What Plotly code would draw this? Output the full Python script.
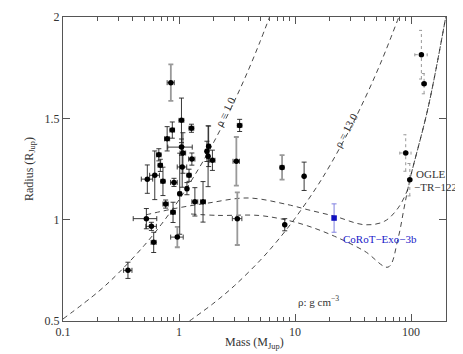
import plotly.graph_objects as go
import numpy as np

# transiting planets (black symbols)
mass = [1.05, 1.28, 0.875, 0.79, 1.05, 1.08, 0.67, 0.69, 1.29, 1.065, 0.533, 0.618,
        0.727, 0.905, 1.22, 1.17, 1.014, 0.767, 0.888, 1.37, 1.61, 0.523, 0.578,
        0.605, 0.363, 1.80, 1.74, 1.78, 1.94, 3.33, 8.15, 11.97]
radius = [1.49, 1.451, 1.442, 1.399, 1.358, 1.329, 1.32, 1.268, 1.299, 1.26, 1.20, 1.219,
          1.189, 1.184, 1.219, 1.153, 1.128, 1.077, 1.036, 1.088, 1.088, 1.005, 0.967,
          0.888, 0.75, 1.362, 1.337, 1.313, 1.293, 1.465, 0.975, 1.214]
mass_err = [0.05, 0.06, 0.04, 0.04, 0.25, 0.06, 0.03, 0.03, 0.08, 0.1, 0.06, 0.06,
            0.03, 0.06, 0.05, 0.03, 0.03, 0.04, 0.04, 0.08, 0.08, 0.12, 0.06,
            0.03, 0.03, 0.05, 0.05, 0.05, 0.1, 0.15, 0.1, 0.15]
radius_err = [0.11, 0.02, 0.04, 0.06, 0.04, 0.1, 0.03, 0.03, 0.03, 0.1, 0.07, 0.12,
              0.07, 0.02, 0.03, 0.03, 0.2, 0.02, 0.05, 0.07, 0.1, 0.05, 0.02,
              0.05, 0.04, 0.1, 0.05, 0.15, 0.05, 0.03, 0.03, 0.07]

# planets with grey error bars
mass_g = [0.85, 0.967, 3.12, 3.18, 7.73]
radius_g = [1.676, 0.914, 1.288, 1.005, 1.258]
mass_err_g = [0.06, 0.12, 0.2, 0.3, 0.3]
radius_err_g = [0.09, 0.05, 0.12, 0.13, 0.06]

# low-mass stars (dotted error bars)
mass_s = [122.7, 129.5, 89.9, 97.5]
radius_s = [1.814, 1.671, 1.329, 1.197]
mass_err_s = [15, 6, 10, 4]
radius_err_s = [0.12, 0.05, 0.09, 0.08]

# CoRoT-Exo-3b
corot_mass = [21.7]
corot_radius = [1.008]
corot_radius_err = [0.07]

# iso-density curves
rho1_mass = [0.1, 0.2, 0.3, 0.5, 0.7, 1, 1.5, 2, 3, 4, 5, 6.03]
rho1_radius = [0.51, 0.643, 0.736, 0.872, 0.975, 1.098, 1.258, 1.384, 1.585, 1.744, 1.879, 2.0]
rho13_mass = [1.23, 2, 3, 5, 7, 10, 15, 20, 30, 40, 50, 60, 78.4]
rho13_radius = [0.5, 0.589, 0.674, 0.799, 0.894, 1.007, 1.152, 1.268, 1.452, 1.598, 1.721, 1.829, 2.0]

# theoretical mass-radius relations
model_a_mass = [0.52, 0.98, 1.78, 3.93, 8.69, 12.9, 21.9, 39.9, 58.9, 77.4, 94.3, 97.5, 140, 199]
model_a_radius = [1.024, 1.058, 1.082, 1.107, 1.074, 1.049, 1.017, 0.975, 0.992, 1.058, 1.156, 1.197, 1.551, 2.0]
model_b_mass = [1.27, 2.17, 4.8, 8.15, 12.9, 21.9, 39.9, 63.4, 77.3, 87.0, 97.5, 140, 199]
model_b_radius = [1.028, 1.021, 1.021, 1.0, 0.969, 0.918, 0.844, 0.766, 0.909, 1.057, 1.196, 1.551, 2.0]

FONT = "Liberation Serif"
DASH = "5px,4px"
TXT = '#333'

fig = go.Figure()

for xs, ys in [(rho1_mass, rho1_radius), (rho13_mass, rho13_radius),
               (model_a_mass, model_a_radius), (model_b_mass, model_b_radius)]:
    fig.add_trace(go.Scatter(x=xs, y=ys, mode='lines', line_shape='spline',
                             line=dict(color='#333', width=0.9, dash=DASH)))

# dotted error bars built from the star values
ex, ey = [], []
cap_dex, cap_r = 0.02, 0.008
for m, r, dm, dr in zip(mass_s, radius_s, mass_err_s, radius_err_s):
    ex += [m, m, None, m - dm, m + dm, None]
    ey += [r - dr, r + dr, None, r, r, None]
    for yy in (r - dr, r + dr):
        ex += [m * 10 ** -cap_dex, m * 10 ** cap_dex, None]
        ey += [yy, yy, None]
    for xx in (m - dm, m + dm):
        ex += [xx, xx, None]
        ey += [r - cap_r, r + cap_r, None]
fig.add_trace(go.Scatter(x=ex, y=ey, mode='lines',
                         line=dict(color='#999', width=1, dash='dot')))
fig.add_trace(go.Scatter(x=mass_s, y=radius_s, mode='markers',
                         marker=dict(color='black', size=5.5)))

fig.add_trace(go.Scatter(
    x=mass_g, y=radius_g, mode='markers',
    marker=dict(color='black', size=5.5),
    error_x=dict(type='data', array=mass_err_g, color='#444', thickness=1, width=2.5),
    error_y=dict(type='data', array=radius_err_g, color='#999', thickness=1.8, width=2.5)))

fig.add_trace(go.Scatter(
    x=mass, y=radius, mode='markers',
    marker=dict(color='black', size=5.5),
    error_x=dict(type='data', array=mass_err, color='#222', thickness=0.9, width=2.5),
    error_y=dict(type='data', array=radius_err, color='#222', thickness=0.9, width=2.5)))

fig.add_trace(go.Scatter(
    x=corot_mass, y=corot_radius, mode='markers',
    marker=dict(color='#1010c0', size=5.5, symbol='square'),
    error_y=dict(type='data', array=corot_radius_err, color='#8080e0', thickness=1, width=2.5)))

annot_font = dict(family=FONT, size=11, color=TXT)
fig.add_annotation(x=np.log10(2.5), y=1.53, text="ρ = 1.0", showarrow=False,
                   textangle=-63, font=annot_font)
fig.add_annotation(x=np.log10(27.7), y=1.44, text="ρ = 13.0", showarrow=False,
                   textangle=-62, font=annot_font)
fig.add_annotation(x=np.log10(15.8), y=0.6, text="ρ: g cm<sup>−3</sup>", showarrow=False,
                   font=annot_font)
fig.add_annotation(x=np.log10(24.8), y=0.905, text="CoRoT−Exo−3b", showarrow=False,
                   xanchor='left', font=dict(family=FONT, size=11, color='#2020c8'))
fig.add_annotation(xref='paper', x=0.917, y=1.225, text="OGLE", showarrow=False,
                   xanchor='left', font=annot_font)
fig.add_annotation(xref='paper', x=0.91, y=1.16, text="−TR−122", showarrow=False,
                   xanchor='left', font=annot_font)
fig.add_annotation(xref='paper', yref='paper', x=0.5, y=-0.072, yanchor='middle',
                   text="Mass (M<sub>Jup</sub>)", showarrow=False,
                   font=dict(family=FONT, size=12, color=TXT))

axis_common = dict(showline=True, linecolor='#555', linewidth=1, mirror='ticks',
                   ticks='inside', ticklen=7, tickcolor='#555', showgrid=False,
                   zeroline=False, tickfont=dict(family=FONT, size=12, color=TXT))

fig.update_layout(
    template='simple_white',
    width=463, height=354,
    margin=dict(l=55, r=25, t=9, b=41),
    showlegend=False,
    plot_bgcolor='white',
    xaxis=dict(type='log', range=[-1, np.log10(200)],
               tickvals=[0.1, 1, 10, 100], ticktext=['0.1', '1', '10', '100'],
               minor=dict(tickvals=[0.2, 0.3, 0.4, 0.5, 0.6, 0.7, 0.8, 0.9,
                                    2, 3, 4, 5, 6, 7, 8, 9,
                                    20, 30, 40, 50, 60, 70, 80, 90],
                          ticks='inside', ticklen=4, tickcolor='#555'),
               automargin=False, **axis_common),
    yaxis=dict(range=[0.5, 2], tickvals=[0.5, 1, 1.5, 2], ticktext=['0.5', '1', '1.5', '2'],
               title=dict(text="Radius (R<sub>Jup</sub>)", standoff=8,
                          font=dict(family=FONT, size=12, color=TXT)),
               automargin=False, **axis_common),
)

fig.write_html("out.html")
